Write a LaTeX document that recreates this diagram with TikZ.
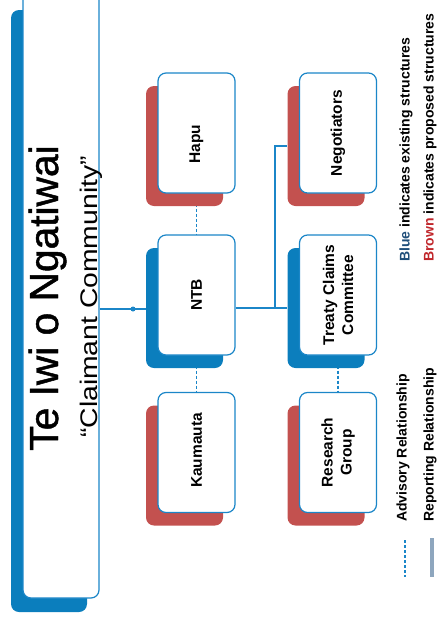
\documentclass[tikz,border=0pt]{standalone}
\usepackage{fontspec}
\setmainfont{Liberation Sans}
\newfontfamily\subfont{Liberation Sans}[FakeStretch=1.18]
\newfontfamily\titlefont{Liberation Sans}[FakeBold=1.2]
\definecolor{sblue}{HTML}{0B7EBD}
\definecolor{sred}{HTML}{C3514F}
\definecolor{bline}{HTML}{1B86C8}
\definecolor{legblue}{HTML}{1F4E79}
\definecolor{legred}{HTML}{C0262B}
\definecolor{repgray}{HTML}{8EA6BE}
\pgfdeclarelayer{bg}
\pgfsetlayers{bg,main}
\begin{document}
\begin{tikzpicture}[x=1pt,y=-1pt,
  shad/.style={rectangle, rounded corners=8pt, minimum width=77pt, minimum height=120pt, inner sep=0pt},
  shblue/.style={shad, fill=sblue},
  shred/.style={shad, fill=sred},
  unit/.style={rectangle, rounded corners=8pt, draw=bline, line width=1.2pt, fill=white, minimum width=77pt, minimum height=120pt, inner sep=0pt},
  lbl/.style={rotate=90, inner sep=0pt, align=center, font=\fontsize{15.5}{19}\selectfont\bfseries},
  conn/.style={draw=bline, line width=1.2pt},
  adv/.style={draw=bline, line width=1.2pt, dash pattern=on 3pt off 2pt},
  leg/.style={rotate=90, anchor=west, inner sep=0pt, font=\fontsize{14}{16}\selectfont\bfseries}
]
\useasboundingbox (0,0) rectangle (438,627);

% main box
\node[rectangle, rounded corners=8pt, fill=sblue, minimum width=76pt, minimum height=602pt, inner sep=0pt] (mains) at (49,311) {};
\node[rectangle, rounded corners=8pt, draw=bline, line width=1.2pt, fill=white, minimum width=76pt, minimum height=612pt, inner sep=0pt] (main) at (61,292) {};
\node[rotate=90, anchor=base, inner sep=0pt, font={\titlefont\fontsize{40.7}{44}\selectfont}] (title) at (58,298) {Te Iwi o Ngatiwai};
\node[rotate=90, anchor=base, inner sep=0pt, font={\subfont\fontsize{24}{26}\selectfont}] (sub) at (97,297) {“Claimant Community”};

% column 1
\node[shred] (hapus) at (184.5,146) {};
\node[unit] (hapu) at (196.5,133) {};
\node[lbl] (hapul) at (196.5,144) {Hapu};

\node[shblue] (ntbs) at (184.5,308) {};
\node[unit] (ntb) at (196.5,295) {};
\node[lbl] (ntbl) at (196.5,295) {NTB};

\node[shred] (kaus) at (184.5,465.5) {};
\node[unit] (kau) at (196.5,452.5) {};
\node[lbl] (kaul) at (196.5,450.5) {Kaumauta};

% column 2
\node[shred] (negs) at (326,146) {};
\node[unit] (neg) at (338,133) {};
\node[lbl] (negl) at (338,133) {Negotiators};

\node[shblue] (trs) at (326,308) {};
\node[unit] (tr) at (338,295) {};
\node[lbl] (trl) at (338,295) {Treaty Claims\\Committee};

\node[shred] (ress) at (326,465.5) {};
\node[unit] (res) at (338,452.5) {};
\node[lbl] (resl) at (338,452.5) {Research\\Group};

% connectors
\coordinate (j0) at (133,309);
\coordinate (j1) at (275,308);
\begin{pgfonlayer}{bg}
\draw[conn] (main.east |- j0) -- (ntbs.west |- j0);
\draw[conn] (ntb.east |- j1) -- (trs.west |- j1);
\draw[conn] (j1) |- (negs.west);
\draw[adv] (hapu.south) -- (ntb.north);
\draw[adv] (ntb.south) -- (kau.north);
\draw[adv] (tr.south) -- (res.north);
\end{pgfonlayer}
\fill[bline] (j0) circle (2.5pt);

% legend
\node[leg] (bluel) at (406,262) {\textcolor{legblue}{Blue} indicates existing structures};
\node[leg] (brownl) at (430,262) {\textcolor{legred}{Brown} indicates proposed structures};
\node[leg] (advl) at (403,522) {Advisory Relationship};
\node[leg] (repl) at (430,522) {Reporting Relationship};
\coordinate (a1) at (405,540);
\coordinate (a2) at (405,577);
\coordinate (r1) at (432,538);
\coordinate (r2) at (432,577);
\draw[adv] (a1) -- (a2);
\draw[repgray, line width=4.5pt] (r1) -- (r2);
\end{tikzpicture}
\end{document}
